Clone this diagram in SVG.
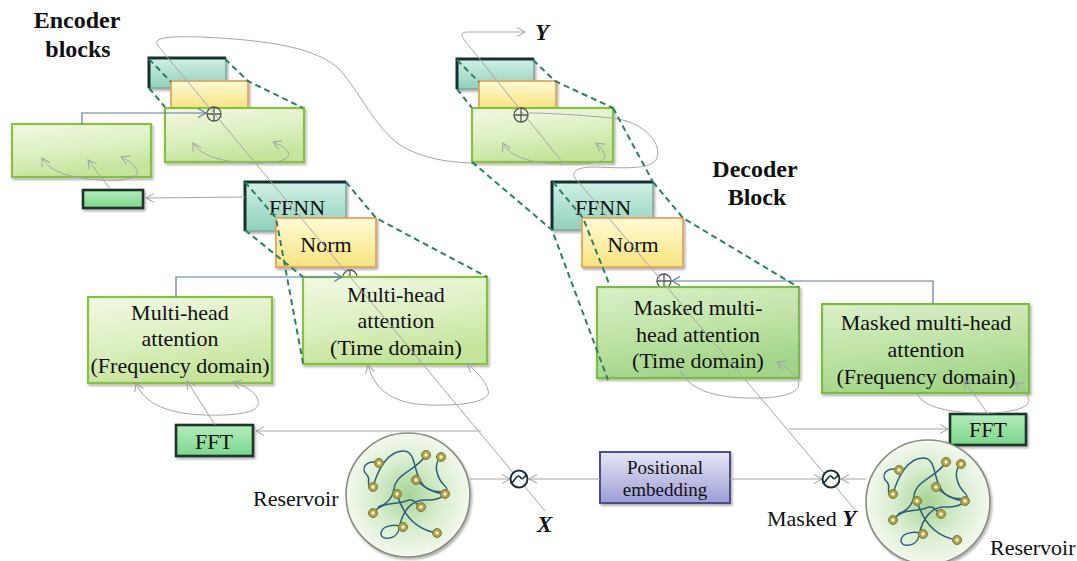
<svg xmlns="http://www.w3.org/2000/svg" xmlns:xlink="http://www.w3.org/1999/xlink" width="1077" height="561" viewBox="0 0 1077 561">
  <defs>
    <linearGradient id="gGreen" x1="0" y1="0" x2="0.3" y2="1">
      <stop offset="0" stop-color="#f2f9e4"/>
      <stop offset="0.55" stop-color="#ddf0c2"/>
      <stop offset="1" stop-color="#c5e49c"/>
    </linearGradient>
    <linearGradient id="gGreenDeep" x1="0" y1="0" x2="0.3" y2="1">
      <stop offset="0" stop-color="#d9f0c8"/>
      <stop offset="0.55" stop-color="#bfe3a6"/>
      <stop offset="1" stop-color="#a2d589"/>
    </linearGradient>
    <linearGradient id="gTeal" x1="0" y1="0" x2="0" y2="1">
      <stop offset="0" stop-color="#d2f0e6"/>
      <stop offset="1" stop-color="#8fd1bc"/>
    </linearGradient>
    <linearGradient id="gYellow" x1="0" y1="0" x2="0" y2="1">
      <stop offset="0" stop-color="#fffbd6"/>
      <stop offset="1" stop-color="#f7e37e"/>
    </linearGradient>
    <linearGradient id="gFFT" x1="0" y1="0" x2="0" y2="1">
      <stop offset="0" stop-color="#b2edbc"/>
      <stop offset="1" stop-color="#7bd68c"/>
    </linearGradient>
    <linearGradient id="gPurple" x1="0" y1="0" x2="0" y2="1">
      <stop offset="0" stop-color="#e6e6f7"/>
      <stop offset="1" stop-color="#9d9dd6"/>
    </linearGradient>
    <radialGradient id="gRes" cx="0.5" cy="0.5" r="0.5">
      <stop offset="0" stop-color="#a6d397"/>
      <stop offset="0.55" stop-color="#d8edcf"/>
      <stop offset="1" stop-color="#f3f8ee"/>
    </radialGradient>
    <filter id="shadow" x="-10%" y="-10%" width="130%" height="140%">
      <feDropShadow dx="1.5" dy="2" stdDeviation="1.2" flood-color="#000" flood-opacity="0.3"/>
    </filter>
    <marker id="arr" markerUnits="userSpaceOnUse" markerWidth="12" markerHeight="12" refX="9" refY="5" orient="auto-start-reverse">
      <path d="M1,0.5 L9,5 L1,9.5" fill="none" stroke="#a0a0a0" stroke-width="1"/>
    </marker>
    <marker id="arrBlue" markerUnits="userSpaceOnUse" markerWidth="12" markerHeight="12" refX="9" refY="5" orient="auto">
      <path d="M1,0.5 L9,5 L1,9.5" fill="none" stroke="#5d7d9d" stroke-width="1.2"/>
    </marker>
    <!-- reservoir body: node dots and wiring around the centre -->
    <g id="res">
      <circle r="62" fill="url(#gRes)" stroke="#8b8b82" stroke-width="1.6" filter="url(#shadow)"/>
      <g fill="none" stroke="#2f5f78" stroke-width="1.5">
        <path d="M-29,-32 C-42,-36 -48,-26 -41,-20 C-36,-15 -44,-9 -35,-8"/>
        <path d="M-35,-8 C-30,-26 -20,-44 -5,-44 C10,-44 4,-20 16,-9 C26,0 34,-6 37,-1"/>
        <path d="M33,-38 C24,-30 30,-16 36,-10 C46,-2 30,6 18,5 C4,4 -6,16 -9,34 C-11,45 -28,46 -27,38 C-26,30 -12,29 -5,32"/>
        <path d="M-35,18 C-26,6 -12,10 -2,6 C8,2 9,12 13,12"/>
        <path d="M-11,-1 C-6,16 4,34 29,38"/>
        <path d="M18,-40 C8,-24 -12,-22 -14,-6 C-16,6 -24,10 -30,12"/>
        <path d="M8,-15 C16,-8 24,-2 37,-1"/>
      </g>
      <g fill="#aca54c" stroke="#7c7832" stroke-width="1">
        <circle cx="-29" cy="-32" r="4.5"/>
        <circle cx="-35" cy="-8" r="4.5"/>
        <circle cx="18" cy="-40" r="4.5"/>
        <circle cx="33" cy="-38" r="4.5"/>
        <circle cx="8" cy="-15" r="4.5"/>
        <circle cx="37" cy="-1" r="4.5"/>
        <circle cx="-11" cy="-1" r="4.5"/>
        <circle cx="13" cy="12" r="4.5"/>
        <circle cx="-35" cy="18" r="4.5"/>
        <circle cx="-5" cy="32" r="4.5"/>
        <circle cx="29" cy="38" r="4.5"/>
      </g>
      <g fill="#f4f2d4">
        <circle cx="-29" cy="-32" r="1.7"/>
        <circle cx="-35" cy="-8" r="1.7"/>
        <circle cx="18" cy="-40" r="1.7"/>
        <circle cx="33" cy="-38" r="1.7"/>
        <circle cx="8" cy="-15" r="1.7"/>
        <circle cx="37" cy="-1" r="1.7"/>
        <circle cx="-11" cy="-1" r="1.7"/>
        <circle cx="13" cy="12" r="1.7"/>
        <circle cx="-35" cy="18" r="1.7"/>
        <circle cx="-5" cy="32" r="1.7"/>
        <circle cx="29" cy="38" r="1.7"/>
      </g>
    </g>
    <!-- summation-with-signal symbol -->
    <g id="mix">
      <circle r="8.5" fill="#ffffff" fill-opacity="0.6" stroke="#1d2e3c" stroke-width="2"/>
      <path d="M-7,4 C-3,-1 -1,-5 1,-2 C3,1 4,0 7,-4" fill="none" stroke="#1d2e3c" stroke-width="1.6"/>
    </g>
    <g id="plus">
      <circle r="7" fill="none" stroke="#555" stroke-width="1.3"/>
      <path d="M-7,0 H7 M0,-7 V7" stroke="#555" stroke-width="1.3"/>
    </g>
  </defs>

  <style>
    .box { filter: url(#shadow); }
    .green { fill: url(#gGreen); stroke: #86c23e; stroke-width: 2.2; }
    .deep { fill: url(#gGreenDeep); stroke: #7dbb43; stroke-width: 2.2; }
    .teal { fill: url(#gTeal); stroke: #7fa9a0; stroke-width: 1.6; }
    .edge { fill: none; stroke: #163030; stroke-width: 3; }
    .yellow { fill: url(#gYellow); stroke: #e3a65e; stroke-width: 1.8; }
    .fft { fill: url(#gFFT); stroke: #1a3526; stroke-width: 2.6; }
    .purple { fill: url(#gPurple); stroke: #4e4e88; stroke-width: 2; }
    .t { font-family: "Liberation Serif", "Times New Roman", serif; font-size: 22px; fill: #111; text-anchor: middle; }
    .ts { font-family: "Liberation Serif", "Times New Roman", serif; font-size: 19px; fill: #111; text-anchor: middle; }
    .title { font-family: "Liberation Serif", "Times New Roman", serif; font-size: 24px; font-weight: bold; fill: #111; text-anchor: middle; }
    .lbl { font-family: "Liberation Serif", "Times New Roman", serif; font-size: 22px; fill: #111; }
    .var { font-family: "Liberation Serif", "Times New Roman", serif; font-size: 23px; font-weight: bold; font-style: italic; fill: #111; }
    .wire { fill: none; stroke: #a6a6a6; stroke-width: 1; }
    .link { fill: none; stroke: #5d7d9d; stroke-width: 1.2; }
    .dash { fill: none; stroke: #2e7d6e; stroke-width: 2; stroke-dasharray: 6 4; }
  </style>

  <!-- titles -->
  <g id="title-encoder">
    <text class="title" x="77" y="28">Encoder</text>
    <text class="title" x="78" y="57">blocks</text>
  </g>
  <g id="title-decoder">
    <text class="title" x="755" y="177">Decoder</text>
    <text class="title" x="757" y="205">Block</text>
  </g>

  <!-- encoder: stacked block miniatures -->
  <g id="enc-mini-stack">
    <rect class="box teal" x="149" y="58" width="77" height="30"/>
    <path class="edge" d="M149,88 V58 H226"/>
    <rect class="box yellow" x="171" y="81" width="77" height="28"/>
    <rect class="box green" x="165" y="108" width="139" height="54"/>
    <use href="#plus" x="214" y="114"/>
  </g>
  <g id="enc-left-block">
    <rect class="box green" x="12" y="124" width="139" height="53"/>
  </g>
  <g id="enc-left-out">
    <rect class="box fft" x="83" y="190" width="60" height="18"/>
  </g>

  <!-- encoder: main block -->
  <g id="enc-ffnn">
    <rect class="box teal" x="245" y="182" width="101" height="49"/>
    <path class="edge" d="M245,231 V182 H346"/>
    <text class="t" x="297" y="215">FFNN</text>
  </g>
  <g id="enc-norm">
    <rect class="box yellow" x="276" y="218" width="100" height="49"/>
    <text class="t" x="326" y="252">Norm</text>
  </g>
  <g id="enc-add">
    <use href="#plus" x="350" y="277"/>
  </g>
  <g id="enc-mha-time">
    <rect class="box green" x="303" y="277" width="184" height="87"/>
    <text class="t" x="396" y="302">Multi-head</text>
    <text class="t" x="396" y="328">attention</text>
    <text class="t" x="396" y="355">(Time domain)</text>
  </g>
  <g id="enc-mha-freq">
    <rect class="box green" x="88" y="297" width="184" height="86"/>
    <text class="t" x="180" y="320">Multi-head</text>
    <text class="t" x="180" y="346">attention</text>
    <text class="t" x="180" y="373">(Frequency domain)</text>
  </g>
  <g id="enc-fft">
    <rect class="box fft" x="176" y="425" width="77" height="31"/>
    <text class="t" x="214" y="449">FFT</text>
  </g>

  <!-- decoder: stacked block miniature -->
  <g id="dec-mini-stack">
    <rect class="box teal" x="457" y="59" width="77" height="30"/>
    <path class="edge" d="M457,89 V59 H534"/>
    <rect class="box yellow" x="479" y="81" width="77" height="28"/>
    <rect class="box green" x="472" y="108" width="141" height="54"/>
    <use href="#plus" x="521" y="115"/>
  </g>

  <!-- decoder: main block -->
  <g id="dec-ffnn">
    <rect class="box teal" x="552" y="182" width="101" height="48"/>
    <path class="edge" d="M552,230 V182 H653"/>
    <text class="t" x="603" y="215">FFNN</text>
  </g>
  <g id="dec-norm">
    <rect class="box yellow" x="582" y="218" width="101" height="49"/>
    <text class="t" x="633" y="252">Norm</text>
  </g>
  <g id="dec-add">
    <use href="#plus" x="664" y="281"/>
  </g>
  <g id="dec-mha-time">
    <rect class="box deep" x="597" y="287" width="202" height="91"/>
    <text class="t" x="698" y="315">Masked multi-</text>
    <text class="t" x="698" y="342">head attention</text>
    <text class="t" x="698" y="368">(Time domain)</text>
  </g>
  <g id="dec-mha-freq">
    <rect class="box deep" x="822" y="304" width="207" height="89"/>
    <text class="t" x="926" y="330">Masked multi-head</text>
    <text class="t" x="926" y="357">attention</text>
    <text class="t" x="926" y="384">(Frequency domain)</text>
  </g>
  <g id="dec-fft">
    <rect class="box fft" x="950" y="414" width="76" height="31"/>
    <text class="t" x="988" y="437">FFT</text>
  </g>

  <!-- inputs -->
  <g id="pos-embedding">
    <rect class="box purple" x="600" y="452" width="130" height="51"/>
    <text class="ts" x="665" y="474">Positional</text>
    <text class="ts" x="665" y="496">embedding</text>
  </g>
  <g id="reservoir-enc">
    <use href="#res" x="408" y="495"/>
    <text class="lbl" x="253" y="506">Reservoir</text>
  </g>
  <g id="reservoir-dec">
    <use href="#res" x="928" y="502"/>
    <text class="lbl" x="990" y="555">Reservoir</text>
  </g>
  <g id="label-x">
    <text class="var" x="537" y="532">X</text>
  </g>
  <g id="label-masked-y">
    <text class="lbl" x="767" y="526">Masked <tspan class="var" font-size="23">Y</tspan></text>
  </g>
  <g id="label-y">
    <text class="var" x="535" y="40">Y</text>
  </g>

  <!-- connectors -->
  <g id="connectors">
    <!-- encoder data path -->
    <path class="wire" d="M545,511 L158,46 C152,38 165,36 200,37 C270,40 318,48 340,70 C360,92 375,128 400,145 C425,160 450,162 472,163"/>
    <path class="wire" d="M481,431 L256,431" marker-end="url(#arr)"/>
    <path class="wire" d="M215,425 L187,381" marker-end="url(#arr)"/>
    <path class="wire" d="M136,383 C145,405 170,414 205,415 C240,416 262,412 258,400 C256,392 245,386 233,382" marker-start="url(#arr)" marker-end="url(#arr)"/>
    <path class="wire" d="M368,365 C375,392 395,404 430,405 C470,406 492,400 488,390 C485,380 475,370 467,364" marker-start="url(#arr)" marker-end="url(#arr)"/>
    <path class="wire" d="M42,158 C50,172 70,178 100,180 C125,182 140,178 137,170 C135,165 128,160 121,157" marker-start="url(#arr)" marker-end="url(#arr)"/>
    <path class="wire" d="M110,189 L88,160" marker-end="url(#arr)"/>
    <path class="wire" d="M193,143 C200,155 220,162 250,163 C275,164 292,160 288,152 C286,148 280,145 273,142" marker-start="url(#arr)" marker-end="url(#arr)"/>
    <path class="wire" d="M245,197 L146,198" marker-end="url(#arr)"/>

    <!-- decoder data path -->
    <path class="wire" d="M856,511 L575,178 C571,171 578,167 595,167 C625,168 652,170 657,158 C662,140 640,121 612,118 C580,115 548,113 528,113"/>
    <path class="wire" d="M563,163 L470,47 C462,38 458,32 468,32 L525,32" marker-end="url(#arr)"/>
    <path class="wire" d="M503,143 C510,157 530,163 560,164 C590,165 607,162 605,155 C603,150 600,146 596,143" marker-start="url(#arr)" marker-end="url(#arr)"/>
    <path class="wire" d="M680,370 C690,392 720,399 760,398 C795,397 803,388 797,378 C793,372 785,366 777,362" marker-end="url(#arr)"/>
    <path class="wire" d="M789,429 L948,429" marker-end="url(#arr)"/>
    <path class="wire" d="M988,414 L964,380" marker-end="url(#arr)"/>
    <path class="wire" d="M917,394 C925,408 950,413 985,413 C1020,413 1032,405 1028,397 C1025,390 1020,386 1015,382" marker-end="url(#arr)"/>

    <!-- input mixing -->
    <path class="wire" d="M600,479 L529,479" marker-end="url(#arr)"/>
    <path class="wire" d="M470,479 L510,479" marker-end="url(#arr)"/>
    <path class="wire" d="M730,479 L822,479" marker-end="url(#arr)"/>
    <path class="wire" d="M866,479 L841,479" marker-end="url(#arr)"/>

    <!-- residual links into the adders -->
    <path class="link" d="M82,124 L82,113 L206,113" marker-end="url(#arrBlue)"/>
    <path class="link" d="M176,297 L176,277 L342,277" marker-end="url(#arrBlue)"/>
    <path class="link" d="M933,304 L933,281 L672,281" marker-end="url(#arrBlue)"/>

    <!-- expansion guides -->
    <path class="dash" d="M149,59 L171,82"/>
    <path class="dash" d="M149,88 L165,107"/>
    <path class="dash" d="M225,59 L248,81 L303,108"/>
    <path class="dash" d="M245,182 L276,218 L303,363"/>
    <path class="dash" d="M245,230 L303,277"/>
    <path class="dash" d="M346,182 L376,218 L487,277"/>
    <path class="dash" d="M457,60 L479,82"/>
    <path class="dash" d="M457,89 L472,108"/>
    <path class="dash" d="M533,60 L555,81 L613,108"/>
    <path class="dash" d="M472,162 L552,230 L608,380"/>
    <path class="dash" d="M613,108 L653,182"/>
    <path class="dash" d="M553,182 L583,218 L610,286"/>
    <path class="dash" d="M653,182 L683,218 L798,287"/>
  </g>

  <!-- mixers -->
  <g id="mix-enc"><use href="#mix" x="519" y="479"/></g>
  <g id="mix-dec"><use href="#mix" x="831" y="479"/></g>
</svg>
